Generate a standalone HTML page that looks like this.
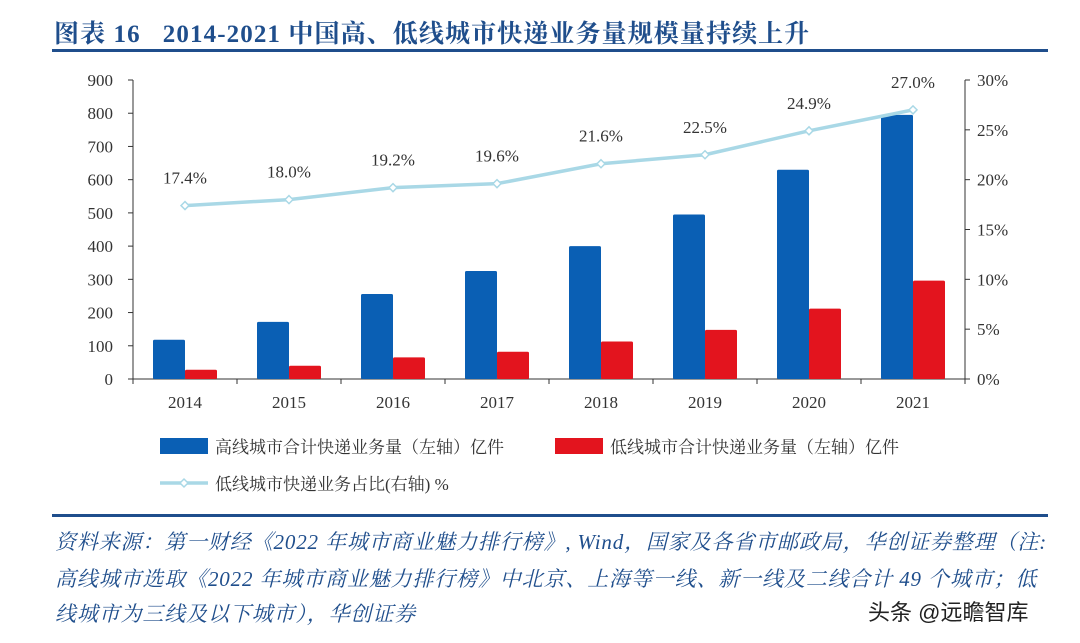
<!DOCTYPE html>
<html><head><meta charset="utf-8">
<style>
body{margin:0;width:1080px;height:643px;background:#fff;overflow:hidden;position:relative;font-family:"Liberation Serif","Noto Serif CJK SC",serif}
#title{position:absolute;left:54px;top:14px;font-size:25px;font-weight:bold;color:#1f4e8c;white-space:nowrap;letter-spacing:1.1px}
.rule{position:absolute;left:52px;width:996px;height:3px;background:#1f4e8c}
.src{position:absolute;left:55px;font-size:21px;font-style:italic;color:#1f4e8c;white-space:nowrap;letter-spacing:0.85px}
#wm{position:absolute;left:868px;top:595px;font-size:22px;color:#222;font-family:"Liberation Sans","Noto Sans CJK SC",sans-serif}
</style></head><body>
<div id="title">图表 16&nbsp;&nbsp; 2014-2021 中国高、低线城市快递业务量规模量持续上升</div>
<div class="rule" style="top:49px"></div>
<svg id="chart" width="1080" height="520" style="position:absolute;left:0;top:0"></svg>
<div class="rule" style="top:514px"></div>
<div class="src" style="top:526px">资料来源：第一财经《2022 年城市商业魅力排行榜》, Wind，国家及各省市邮政局，华创证券整理（注:</div>
<div class="src" style="top:563px">高线城市选取《2022 年城市商业魅力排行榜》中北京、上海等一线、新一线及二线合计 49 个城市；低</div>
<div class="src" style="top:598px">线城市为三线及以下城市），华创证券</div>
<div id="wm">头条 @远瞻智库</div>
<script>
const years=["2014","2015","2016","2017","2018","2019","2020","2021"];
const highVals=[118,172,256,325,400,495,630,795];
const lowVals=[28,40,65,82,113,148,212,296];
const shareVals=[17.4,18.0,19.2,19.6,21.6,22.5,24.9,27.0];
const leftTicks=[0,100,200,300,400,500,600,700,800,900];
const rightTicks=[0,5,10,15,20,25,30];
const NS="http://www.w3.org/2000/svg";
const svg=document.getElementById('chart');
const x0=133,x1=965,yB=379,yT=80;
const yL=v=>yB-v/900*(yB-yT);
const yR=v=>yB-v/30*(yB-yT);
const step=(x1-x0)/years.length;
const xc=i=>x0+step*(i+0.5);
function el(t,a,txt){const e=document.createElementNS(NS,t);for(const k in a)e.setAttribute(k,a[k]);if(txt!=null)e.textContent=txt;svg.appendChild(e);return e;}
const font='"Liberation Serif","Noto Serif CJK SC",serif';
let e=el('line',{x1:x0,y1:yT,x2:x0,y2:yB,stroke:'#333','stroke-width':1});

e=el('line',{x1:x1,y1:yT,x2:x1,y2:yB,stroke:'#333','stroke-width':1});

e=el('line',{x1:x0-5,y1:yB,x2:x1+5,y2:yB,stroke:'#333','stroke-width':1});

leftTicks.forEach(v=>{const y=yL(v);
 el('line',{x1:x0-5,y1:y,x2:x0,y2:y,stroke:'#333'});
 const t=el('text',{x:x0-20,y:y+6,'text-anchor':'end','font-size':17,fill:'#333','font-family':font},v);
 });
rightTicks.forEach(v=>{const y=yR(v);
 el('line',{x1:x1,y1:y,x2:x1+5,y2:y,stroke:'#333'});
 const t=el('text',{x:x1+12,y:y+6,'font-size':17,fill:'#333','font-family':font},v+'%');
 });
years.forEach((y,i)=>{
 el('line',{x1:x0+step*i,y1:yB,x2:x0+step*i,y2:yB+5,stroke:'#333'});
 const t=el('text',{x:xc(i),y:yB+29,'text-anchor':'middle','font-size':17,fill:'#333','font-family':font},y);
 });
el('line',{x1:x1,y1:yB,x2:x1,y2:yB+5,stroke:'#333'});
const bw=32;
highVals.forEach((v,i)=>{const r=el('rect',{x:xc(i)-bw,y:yL(v),width:bw,height:yB-yL(v),fill:'#0a5fb4',rx:1.5});
 });
lowVals.forEach((v,i)=>{const r=el('rect',{x:xc(i),y:yL(v),width:bw,height:yB-yL(v),fill:'#e3141e',rx:1.5});
 });
const pl=el('polyline',{points:shareVals.map((v,i)=>xc(i)+','+yR(v)).join(' '),fill:'none',stroke:'#a9d8e6','stroke-width':3.5});

shareVals.forEach((v,i)=>{const x=xc(i),y=yR(v);
 const m=el('path',{d:`M${x} ${y-4}L${x+4} ${y}L${x} ${y+4}L${x-4} ${y}Z`,fill:'#fff',stroke:'#a9d8e6','stroke-width':1.5});
 
 const t=el('text',{x:x,y:y-22,'text-anchor':'middle','font-size':17,fill:'#333','font-family':font},v.toFixed(1)+'%');
 });
let g=el('rect',{x:160,y:438,width:48,height:16,fill:'#0a5fb4'});
g=el('text',{x:215,y:453,'font-size':17,fill:'#333','font-family':font},'高线城市合计快递业务量（左轴）亿件');
g=el('rect',{x:555,y:438,width:48,height:16,fill:'#e3141e'});
g=el('text',{x:610,y:453,'font-size':17,fill:'#333','font-family':font},'低线城市合计快递业务量（左轴）亿件');
g=el('line',{x1:160,y1:483,x2:208,y2:483,stroke:'#a9d8e6','stroke-width':3.5});
el('path',{d:'M184 479L188 483L184 487L180 483Z',fill:'#fff',stroke:'#a9d8e6','stroke-width':1.5});
g=el('text',{x:215,y:490,'font-size':17,fill:'#333','font-family':font},'低线城市快递业务占比(右轴) %');
</script>
</body></html>
